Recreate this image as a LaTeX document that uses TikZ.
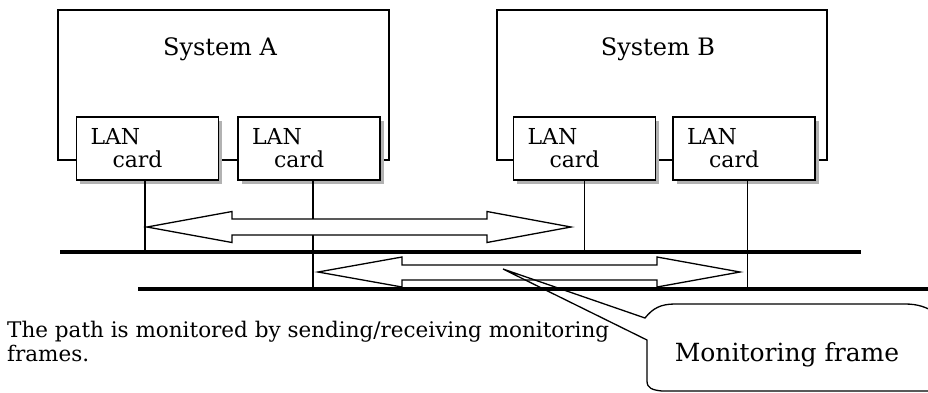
\documentclass[tikz,border=0pt]{standalone}
\usepackage{fontspec}
\setmainfont{DejaVu Serif}
\usepackage{tikz}
\usetikzlibrary{positioning,shadows}
\tikzset{
	system/.style={draw, line width=1.6pt},
	title/.style={font=\fontsize{24}{26}\selectfont, anchor=base},
	card/.style={draw, fill=white, line width=1.6pt,
		minimum height=63pt, text width=114pt, inner xsep=14pt, align=left,
		font=\fontsize{22}{23}\selectfont,
		drop shadow={shadow xshift=3.5pt, shadow yshift=-3.5pt, fill=gray!60, opacity=1}},
	bus/.style={line width=3.2pt},
	wire/.style={line width=1.5pt},
	hollow/.style={draw, line width=1.3pt, fill=white, line join=miter},
}

\begin{document}
\begin{tikzpicture}[x=1pt, y=-1pt]
	\useasboundingbox (0,0) rectangle (928,392);

	% systems
	\draw[system] (58,10) rectangle (389,160);
	\node[title] (sysA) at (220,55) {System A};
	\draw[system] (497,10) rectangle (827,160);
	\node[title] (sysB) at (658,55) {System B};

	% LAN cards
	\node[card] (cardA1) at (147.5,148.5) {LAN\\\hspace*{22pt}card};
	\node[card, right=18pt of cardA1] (cardA2) {LAN\\\hspace*{22pt}card};
	\node[card] (cardB1) at (584.5,148.5) {LAN\\\hspace*{22pt}card};
	\node[card, right=16pt of cardB1] (cardB2) {LAN\\\hspace*{22pt}card};

	% transmission paths
	\coordinate (bus1w) at (60,252);
	\coordinate (bus1e) at (861,252);
	\coordinate (bus2w) at (138,289);
	\coordinate (bus2e) at (928,289);
	\draw[bus] (bus1w) -- (bus1e);
	\draw[bus] (bus2w) -- (bus2e);

	\draw[wire] ([xshift=-2.5pt]cardA1.south) -- ([xshift=-2.5pt]cardA1.south |- bus1w);
	\draw[wire] ([xshift=4pt]cardA2.south) -- ([xshift=4pt]cardA2.south |- bus2w);
	\draw[wire] (cardB1.south) -- (cardB1.south |- bus1w);
	\draw[wire] ([xshift=3.5pt]cardB2.south) -- ([xshift=3.5pt]cardB2.south |- bus2w);

	% monitoring frames
	\draw[hollow] (147,227) -- (232,211.5) -- (232,219) -- (487,219) -- (487,211.5)
		-- (571,227) -- (487,242.5) -- (487,235) -- (232,235) -- (232,242.5) -- cycle;
	\draw[hollow] (318,272) -- (402,257) -- (402,265) -- (657,265) -- (657,257)
		-- (740,272) -- (657,287) -- (657,280) -- (402,280) -- (402,287) -- cycle;

	% callout
	\coordinate (ptr) at (503,269);
	\node[font=\fontsize{25}{27}\selectfont, anchor=base] (callout) at (787,361) {Monitoring frame};
	\begin{scope}
		\clip (0,0) rectangle (928,392);
		\draw[line width=1.3pt] (ptr) -- (645,318) .. controls (653,308) and (661,304) .. (675,304)
			-- (905,304) .. controls (918,304) and (926,307) .. (936,313) -- (940,391) -- (662,391)
			.. controls (652,390) and (647,388) .. (647,381) -- (647,340) -- cycle;
	\end{scope}

	% note
	\node[anchor=base west, align=left, inner sep=0pt, font=\fontsize{21.5}{24}\selectfont] (note) at (7,361)
		{The path is monitored by sending/receiving monitoring\\frames.};
\end{tikzpicture}
\end{document}
